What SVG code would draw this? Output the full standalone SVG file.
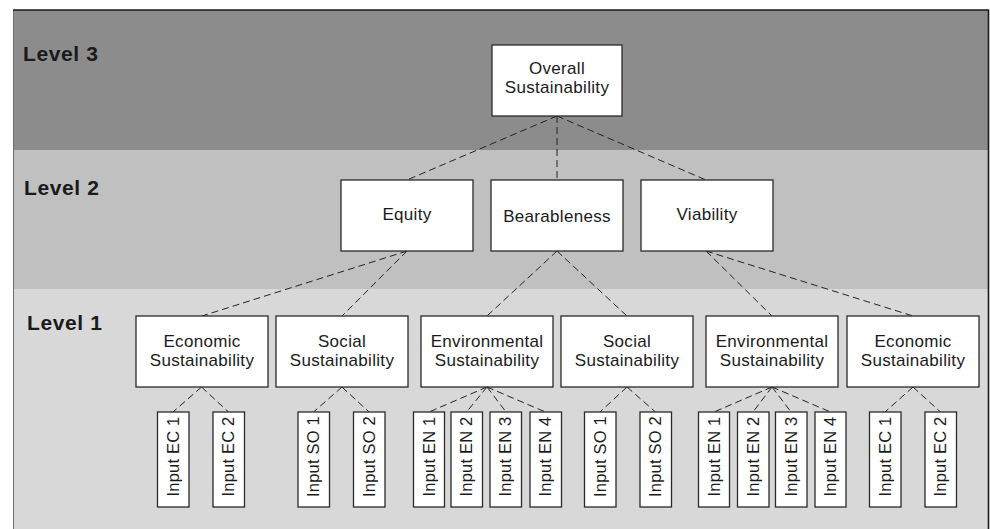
<svg xmlns="http://www.w3.org/2000/svg" width="990" height="529" viewBox="0 0 990 529">
  <style>
    .box { fill: #ffffff; stroke: #2a2a2a; stroke-width: 1.3; }
    .lbl { font-family: "Liberation Sans", Arial, sans-serif; font-size: 17px; letter-spacing: 0.3px; fill: #1a1a1a; text-anchor: middle; }
    .inp { font-family: "Liberation Sans", Arial, sans-serif; font-size: 16.5px; letter-spacing: 0.2px; fill: #1a1a1a; text-anchor: middle; }
    .lvl { font-family: "Liberation Sans", Arial, sans-serif; font-size: 21px; font-weight: bold; letter-spacing: 0.6px; fill: #1a1a1a; }
    .con { stroke: #222222; stroke-width: 1; stroke-dasharray: 7 4; fill: none; }
  </style>

  <!-- level bands -->
  <g id="bands">
    <rect x="13" y="10" width="975" height="140" fill="#8c8c8c"/>
    <rect x="13" y="150" width="975" height="139" fill="#bfc0bf"/>
    <rect x="13" y="289" width="975" height="240" fill="#d8d8d8"/>
    <line x1="13.5" y1="10" x2="13.5" y2="529" stroke="#6e6e6e" stroke-width="1"/>
    <line x1="13" y1="10" x2="989" y2="10" stroke="#1a1a1a" stroke-width="1.6"/>
    <line x1="988.5" y1="10" x2="988.5" y2="529" stroke="#1a1a1a" stroke-width="1.6"/>
    <text class="lvl" x="23" y="61">Level 3</text>
    <text class="lvl" x="24" y="195">Level 2</text>
    <text class="lvl" x="27" y="330">Level 1</text>
  </g>

  <!-- connectors -->
  <g id="connectors">
    <line class="con" x1="557" y1="116" x2="407" y2="180"/>
    <line class="con" x1="557" y1="116" x2="557" y2="180"/>
    <line class="con" x1="557" y1="116" x2="706" y2="180"/>

    <line class="con" x1="407" y1="251" x2="202" y2="316"/>
    <line class="con" x1="407" y1="251" x2="342" y2="316"/>
    <line class="con" x1="557" y1="251" x2="487" y2="316"/>
    <line class="con" x1="557" y1="251" x2="627" y2="316"/>
    <line class="con" x1="706" y1="251" x2="772" y2="316"/>
    <line class="con" x1="706" y1="251" x2="913" y2="316"/>

    <line class="con" x1="201.5" y1="387" x2="173" y2="412"/>
    <line class="con" x1="201.5" y1="387" x2="228.5" y2="412"/>
    <line class="con" x1="342" y1="387" x2="313.5" y2="412"/>
    <line class="con" x1="342" y1="387" x2="369" y2="412"/>
    <line class="con" x1="487" y1="387" x2="429" y2="412"/>
    <line class="con" x1="487" y1="387" x2="466.5" y2="412"/>
    <line class="con" x1="487" y1="387" x2="506" y2="412"/>
    <line class="con" x1="487" y1="387" x2="545.5" y2="412"/>
    <line class="con" x1="627" y1="387" x2="600" y2="412"/>
    <line class="con" x1="627" y1="387" x2="655.5" y2="412"/>
    <line class="con" x1="772" y1="387" x2="714" y2="412"/>
    <line class="con" x1="772" y1="387" x2="753" y2="412"/>
    <line class="con" x1="772" y1="387" x2="791" y2="412"/>
    <line class="con" x1="772" y1="387" x2="830.5" y2="412"/>
    <line class="con" x1="913" y1="387" x2="885" y2="412"/>
    <line class="con" x1="913" y1="387" x2="940.5" y2="412"/>
  </g>

  <!-- level 3 -->
  <g id="overall">
    <rect class="box" x="492" y="45" width="130" height="71"/>
    <text class="lbl" x="557" y="74">Overall</text>
    <text class="lbl" x="557" y="93">Sustainability</text>
  </g>

  <!-- level 2 -->
  <g id="equity">
    <rect class="box" x="341" y="180" width="132" height="71"/>
    <text class="lbl" x="407" y="220">Equity</text>
  </g>
  <g id="bearableness">
    <rect class="box" x="491" y="180" width="132" height="71"/>
    <text class="lbl" x="557" y="222">Bearableness</text>
  </g>
  <g id="viability">
    <rect class="box" x="641" y="180" width="132" height="71"/>
    <text class="lbl" x="707" y="220">Viability</text>
  </g>

  <!-- level 1 -->
  <g id="economic-1">
    <rect class="box" x="136" y="316" width="132" height="71"/>
    <text class="lbl" x="202" y="347">Economic</text>
    <text class="lbl" x="202" y="366">Sustainability</text>
  </g>
  <g id="social-1">
    <rect class="box" x="276" y="316" width="132" height="71"/>
    <text class="lbl" x="342" y="347">Social</text>
    <text class="lbl" x="342" y="366">Sustainability</text>
  </g>
  <g id="environmental-1">
    <rect class="box" x="421" y="316" width="132" height="71"/>
    <text class="lbl" x="487" y="347">Environmental</text>
    <text class="lbl" x="487" y="366">Sustainability</text>
  </g>
  <g id="social-2">
    <rect class="box" x="561" y="316" width="132" height="71"/>
    <text class="lbl" x="627" y="347">Social</text>
    <text class="lbl" x="627" y="366">Sustainability</text>
  </g>
  <g id="environmental-2">
    <rect class="box" x="706" y="316" width="132" height="71"/>
    <text class="lbl" x="772" y="347">Environmental</text>
    <text class="lbl" x="772" y="366">Sustainability</text>
  </g>
  <g id="economic-2">
    <rect class="box" x="847" y="316" width="132" height="71"/>
    <text class="lbl" x="913" y="347">Economic</text>
    <text class="lbl" x="913" y="366">Sustainability</text>
  </g>

  <!-- inputs -->
  <g id="in-ec1-a"><rect class="box" x="157.5" y="412" width="31.5" height="95"/><text class="inp" transform="translate(178.5,456.5) rotate(-90)">Input EC 1</text></g>
  <g id="in-ec2-a"><rect class="box" x="213" y="412" width="31.5" height="95"/><text class="inp" transform="translate(234,456.5) rotate(-90)">Input EC 2</text></g>
  <g id="in-so1-a"><rect class="box" x="298" y="412" width="31.5" height="95"/><text class="inp" transform="translate(319,456.5) rotate(-90)">Input SO 1</text></g>
  <g id="in-so2-a"><rect class="box" x="353.5" y="412" width="31.5" height="95"/><text class="inp" transform="translate(374.5,456.5) rotate(-90)">Input SO 2</text></g>
  <g id="in-en1-a"><rect class="box" x="413.5" y="412" width="31" height="95"/><text class="inp" transform="translate(434.5,456.5) rotate(-90)">Input EN 1</text></g>
  <g id="in-en2-a"><rect class="box" x="451" y="412" width="31.5" height="95"/><text class="inp" transform="translate(472,456.5) rotate(-90)">Input EN 2</text></g>
  <g id="in-en3-a"><rect class="box" x="490" y="412" width="31.5" height="95"/><text class="inp" transform="translate(511,456.5) rotate(-90)">Input EN 3</text></g>
  <g id="in-en4-a"><rect class="box" x="530" y="412" width="31.5" height="95"/><text class="inp" transform="translate(551,456.5) rotate(-90)">Input EN 4</text></g>
  <g id="in-so1-b"><rect class="box" x="584.5" y="412" width="31.5" height="95"/><text class="inp" transform="translate(605.5,456.5) rotate(-90)">Input SO 1</text></g>
  <g id="in-so2-b"><rect class="box" x="640" y="412" width="31.5" height="95"/><text class="inp" transform="translate(661,456.5) rotate(-90)">Input SO 2</text></g>
  <g id="in-en1-b"><rect class="box" x="698.5" y="412" width="31" height="95"/><text class="inp" transform="translate(719.5,456.5) rotate(-90)">Input EN 1</text></g>
  <g id="in-en2-b"><rect class="box" x="737.5" y="412" width="31.5" height="95"/><text class="inp" transform="translate(758.5,456.5) rotate(-90)">Input EN 2</text></g>
  <g id="in-en3-b"><rect class="box" x="775.5" y="412" width="31.5" height="95"/><text class="inp" transform="translate(796.5,456.5) rotate(-90)">Input EN 3</text></g>
  <g id="in-en4-b"><rect class="box" x="815" y="412" width="31" height="95"/><text class="inp" transform="translate(836,456.5) rotate(-90)">Input EN 4</text></g>
  <g id="in-ec1-b"><rect class="box" x="869.5" y="412" width="31.5" height="95"/><text class="inp" transform="translate(890.5,456.5) rotate(-90)">Input EC 1</text></g>
  <g id="in-ec2-b"><rect class="box" x="925" y="412" width="31.5" height="95"/><text class="inp" transform="translate(946,456.5) rotate(-90)">Input EC 2</text></g>
</svg>
